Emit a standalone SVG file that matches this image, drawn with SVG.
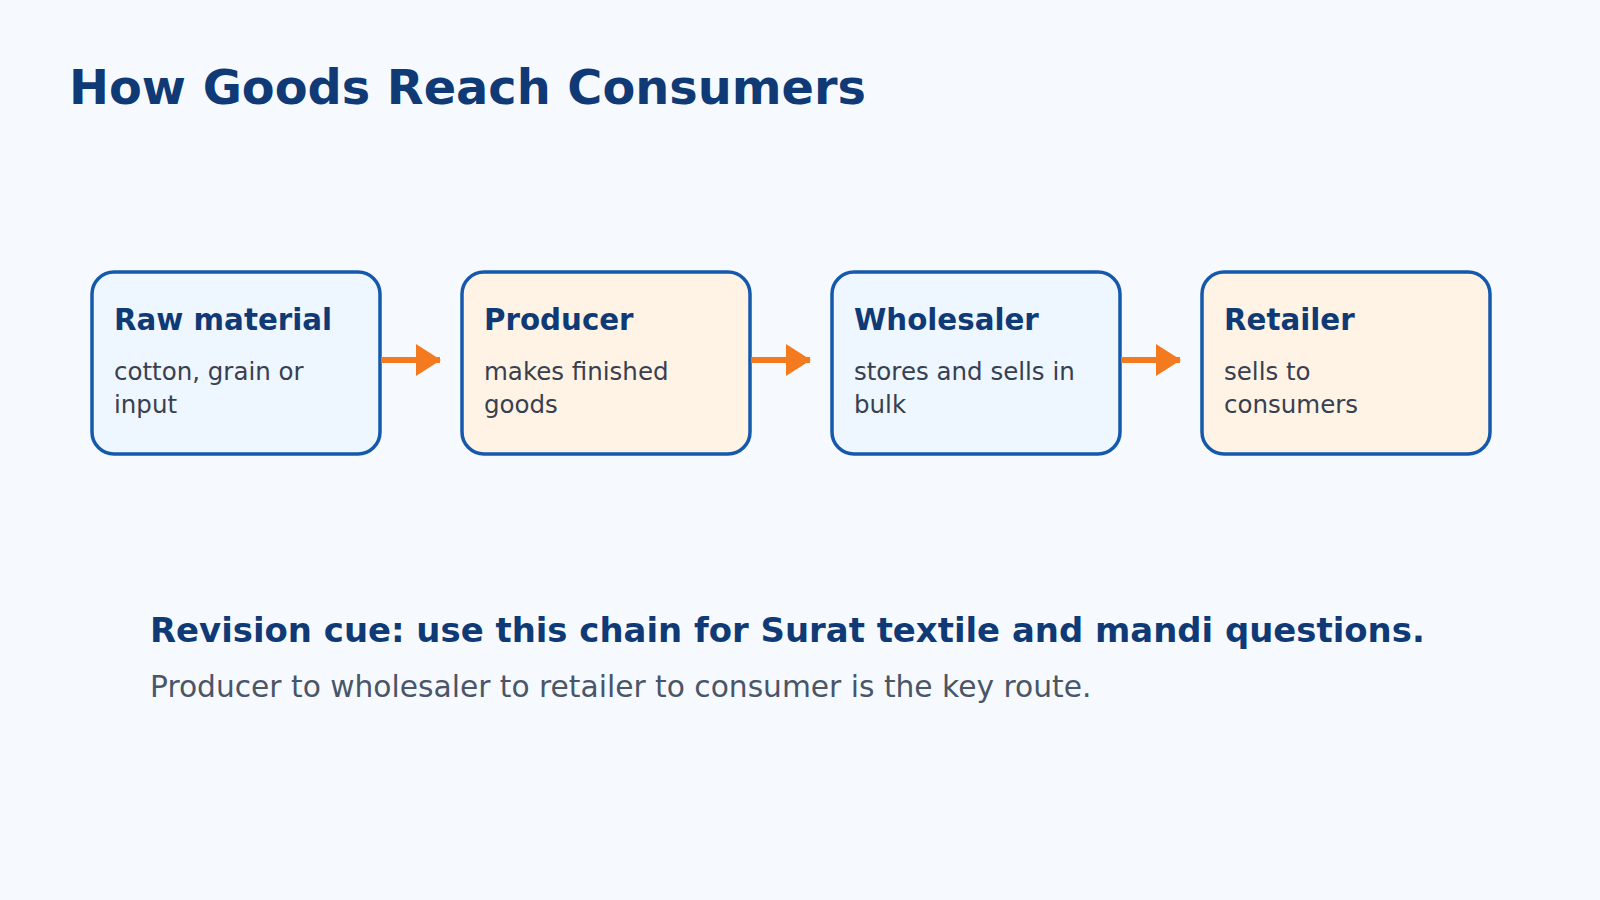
<svg xmlns="http://www.w3.org/2000/svg" width="1600" height="900" viewBox="0 0 1600 900">
<style>
.box{stroke:#1559ad;stroke-width:3.5}
.blue{fill:#eef6ff}.orange{fill:#fff3e6}
.h{font-family:"DejaVu Sans",sans-serif;font-weight:bold;fill:#0f3a75}
.d{font-family:"DejaVu Sans",sans-serif;fill:#384050;font-size:24.5px}
.c{stroke:#f47a20;stroke-width:6;fill:none}
</style>
<rect width="1600" height="900" fill="#f6faff"/>
<text x="69" y="104" class="h" font-size="47.8">How Goods Reach Consumers</text>
<g id="n1"><rect class="box blue" x="92" y="272" width="288" height="182" rx="22"/><text x="114" y="330" class="h" font-size="29.3">Raw material</text><text class="d" x="114" y="380">cotton, grain or</text><text class="d" x="114" y="413">input</text></g>
<g id="n2"><rect class="box orange" x="462" y="272" width="288" height="182" rx="22"/><text x="484" y="330" class="h" font-size="29.3">Producer</text><text class="d" x="484" y="380">makes finished</text><text class="d" x="484" y="413">goods</text></g>
<g id="n3"><rect class="box blue" x="832" y="272" width="288" height="182" rx="22"/><text x="854" y="330" class="h" font-size="29.3">Wholesaler</text><text class="d" x="854" y="380">stores and sells in</text><text class="d" x="854" y="413">bulk</text></g>
<g id="n4"><rect class="box orange" x="1202" y="272" width="288" height="182" rx="22"/><text x="1224" y="330" class="h" font-size="29.3">Retailer</text><text class="d" x="1224" y="380">sells to</text><text class="d" x="1224" y="413">consumers</text></g>
<g id="connectors">
<line class="c" x1="381" y1="360" x2="440" y2="360"/><path d="M416,344 L441,360 L416,376Z" fill="#f47a20"/>
<line class="c" x1="751" y1="360" x2="810" y2="360"/><path d="M786,344 L811,360 L786,376Z" fill="#f47a20"/>
<line class="c" x1="1121" y1="360" x2="1180" y2="360"/><path d="M1156,344 L1181,360 L1156,376Z" fill="#f47a20"/>
</g>
<text x="150" y="642" class="h" font-size="33.9">Revision cue: use this chain for Surat textile and mandi questions.</text>
<text x="150" y="697" font-family="DejaVu Sans,sans-serif" font-size="29.7" fill="#4a5568">Producer to wholesaler to retailer to consumer is the key route.</text>
</svg>
